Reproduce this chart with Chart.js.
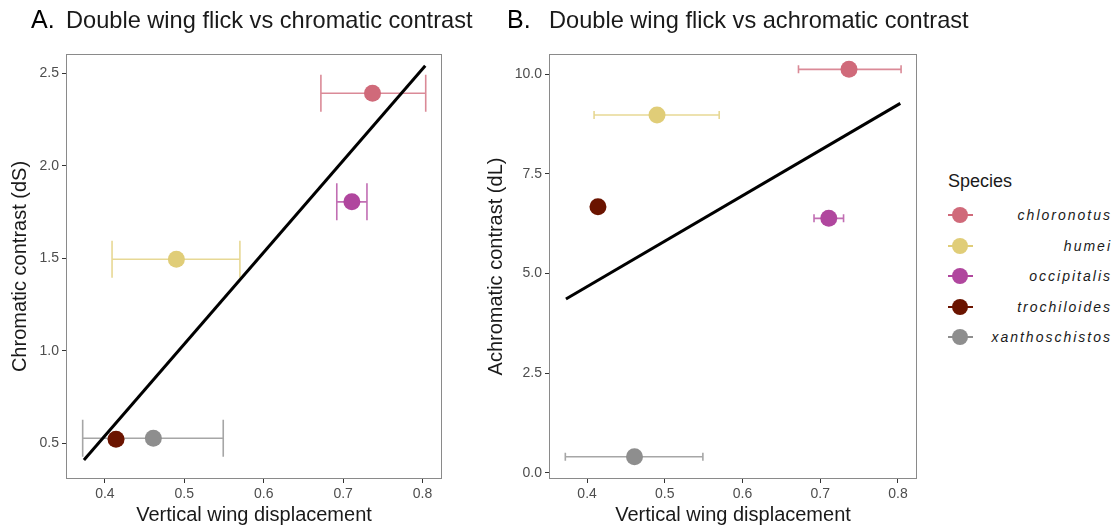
<!DOCTYPE html>
<html>
<head>
<meta charset="utf-8">
<script src="https://cdn.jsdelivr.net/npm/chart.js@4.4.0/dist/chart.umd.min.js"></script>
<style>
  body { margin: 0; background: #fff; width: 1114px; height: 527px; position: relative; overflow: hidden;
         font-family: "Liberation Sans", Arial, Helvetica, sans-serif; }
  canvas { position: absolute; top: 0; }
  .tag { position: absolute; font-size: 25px; line-height: 25px; color: #000; }
  .ttl { position: absolute; font-size: 23.6px; line-height: 23px; color: #1a1a1a; white-space: nowrap; }
  #legendTitle { position: absolute; left: 948px; top: 172px; font-size: 18px; line-height: 18px; color: #1a1a1a; }
  .item { position: absolute; left: 940px; width: 172px; height: 20px; }
  .item .bar { position: absolute; left: 8px; top: 9px; width: 25px; height: 2px; }
  .item .dot { position: absolute; left: 12px; top: 2px; width: 16px; height: 16px; border-radius: 50%; }
  .item .name { position: absolute; right: 0; top: 0; font-size: 14px; line-height: 20px; font-style: italic;
                letter-spacing: 2px; color: #1a1a1a; }
</style>
</head>
<body>
<canvas id="chartChromatic" width="460" height="527" style="left:0px"></canvas>
<canvas id="chartAchromatic" width="452" height="527" style="left:483px"></canvas>

<div class="tag" style="left:31px; top:7px">A.</div>
<div class="ttl" style="left:66px; top:8.5px">Double wing flick vs chromatic contrast</div>
<div class="tag" style="left:507px; top:7px">B.</div>
<div class="ttl" style="left:549px; top:8.5px">Double wing flick vs achromatic contrast</div>
<div id="legendTitle">Species</div>
<div id="legend"></div>

<script>
  /* Datos */
  const species = ['chloronotus', 'humei', 'occipitalis', 'trochiloides', 'xanthoschistos'];
  const colors = ['#D06A7A', '#E0CD78', '#B0469E', '#6B1400', '#8E8E8E'];

  const wingDisp = [0.737, 0.490, 0.711, 0.414, 0.461];
  const wingLow = [0.672, 0.409, 0.692, null, 0.372];
  const wingHigh = [0.804, 0.570, 0.730, null, 0.549];

  const chromatic = [2.392, 1.495, 1.805, 0.522, 0.527];
  const achromatic = [10.125, 8.98, 6.385, 6.677, 0.40];

  const fitChromX = [0.3736, 0.8034];
  const fitChromY = [0.41, 2.541];
  const fitAchromX = [0.3728, 0.803];
  const fitAchromY = [4.36, 9.27];

  const xTicks = [0.4, 0.5, 0.6, 0.7, 0.8];
  const yTicksChrom = [0.5, 1.0, 1.5, 2.0, 2.5];
  const yTicksAchrom = [0, 2.5, 5, 7.5, 10];

  const capHalf = 0.1;

  /* Barras de error horizontales */
  const errorBars = {
    id: 'errorBars',
    beforeDatasetsDraw(chart) {
      const ctx = chart.ctx;
      const x = chart.scales.x;
      const y = chart.scales.y;
      const pts = chart.data.datasets[0].data;
      ctx.save();
      ctx.lineWidth = 1.6;
      for (let i = 0; i < species.length; i++) {
        if (wingLow[i] == null) continue;
        const py = y.getPixelForValue(pts[i].y);
        const cap = Math.abs(y.getPixelForValue(pts[i].y + capHalf) - py);
        const x0 = x.getPixelForValue(wingLow[i]);
        const x1 = x.getPixelForValue(wingHigh[i]);
        ctx.strokeStyle = colors[i] + 'C8';
        ctx.beginPath();
        ctx.moveTo(x0, py); ctx.lineTo(x1, py);
        ctx.moveTo(x0, py - cap); ctx.lineTo(x0, py + cap);
        ctx.moveTo(x1, py - cap); ctx.lineTo(x1, py + cap);
        ctx.stroke();
      }
      ctx.restore();
    }
  };

  /* Borde del panel */
  const panelBorder = {
    id: 'panelBorder',
    afterDatasetsDraw(chart) {
      const { ctx, chartArea } = chart;
      ctx.save();
      ctx.strokeStyle = '#8a8a8a';
      ctx.lineWidth = 1;
      ctx.strokeRect(Math.round(chartArea.left) + 0.5, Math.round(chartArea.top) + 0.5,
        Math.round(chartArea.width) - 1, Math.round(chartArea.height) - 1);
      ctx.restore();
    }
  };

  function makeChart(id, yVals, fitX, fitY, yTicks, yMin, yMax, yTitle, titlePad) {
    const points = wingDisp.map((v, i) => ({ x: v, y: yVals[i] }));
    const fit = fitX.map((v, i) => ({ x: v, y: fitY[i] }));
    const tickFont = { family: '"Liberation Sans", Arial, sans-serif', size: 14 };
    const titleFont = { family: '"Liberation Sans", Arial, sans-serif', size: 20 };

    return new Chart(document.getElementById(id), {
      type: 'scatter',
      plugins: [errorBars, panelBorder],
      data: {
        datasets: [
          {
            data: points,
            pointRadius: 8.5,
            pointHoverRadius: 8.5,
            pointBackgroundColor: colors,
            pointBorderWidth: 0,
            order: 1,
          },
          {
            type: 'line',
            data: fit,
            borderColor: '#000',
            borderWidth: 3,
            pointRadius: 0,
            fill: false,
            order: 0,
          },
        ],
      },
      options: {
        responsive: false,
        animation: false,
        events: [],
        layout: { padding: { top: 54, right: 18, left: 0, bottom: 0 } },
        scales: {
          x: {
            type: 'linear',
            min: 0.351,
            max: 0.8245,
            afterBuildTicks: (scale) => { scale.ticks = xTicks.map(v => ({ value: v })); },
            afterFit: (scale) => { scale.height = 48; },
            grid: { drawOnChartArea: false, drawTicks: true, tickLength: 4, tickColor: '#333' },
            border: { display: false },
            ticks: { color: '#4d4d4d', font: tickFont, padding: 3, maxRotation: 0,
              callback: (v) => v.toFixed(1) },
            title: { display: true, text: 'Vertical wing displacement', color: '#1a1a1a',
              font: titleFont, padding: { top: 0, bottom: 0 } },
          },
          y: {
            type: 'linear',
            min: yMin,
            max: yMax,
            afterBuildTicks: (scale) => { scale.ticks = yTicks.map(v => ({ value: v })); },
            afterFit: (scale) => { scale.width = 66; },
            grid: { drawOnChartArea: false, drawTicks: true, tickLength: 4, tickColor: '#333' },
            border: { display: false },
            ticks: { color: '#4d4d4d', font: tickFont, padding: 3,
              callback: (v) => v.toFixed(1) },
            title: { display: true, text: yTitle, color: '#1a1a1a',
              font: titleFont, padding: { top: titlePad, bottom: 0 } },
          },
        },
        plugins: {
          legend: { display: false },
          tooltip: { enabled: false },
        },
      },
    });
  }

  makeChart('chartChromatic', chromatic, fitChromX, fitChromY, yTicksChrom, 0.307, 2.604,
    'Chromatic contrast (dS)', 8.6);
  makeChart('chartAchromatic', achromatic, fitAchromX, fitAchromY, yTicksAchrom, -0.158, 10.51,
    'Achromatic contrast (dL)', 1.6);

  /* Leyenda */
  const legend = document.getElementById('legend');
  for (let i = 0; i < species.length; i++) {
    const item = document.createElement('div');
    item.className = 'item';
    item.style.top = (205 + i * 30.5) + 'px';
    item.innerHTML = `<span class="bar" style="background:${colors[i]}"></span>` +
      `<span class="dot" style="background:${colors[i]}"></span>` +
      `<span class="name">${species[i]}</span>`;
    legend.appendChild(item);
  }
</script>
</body>
</html>
